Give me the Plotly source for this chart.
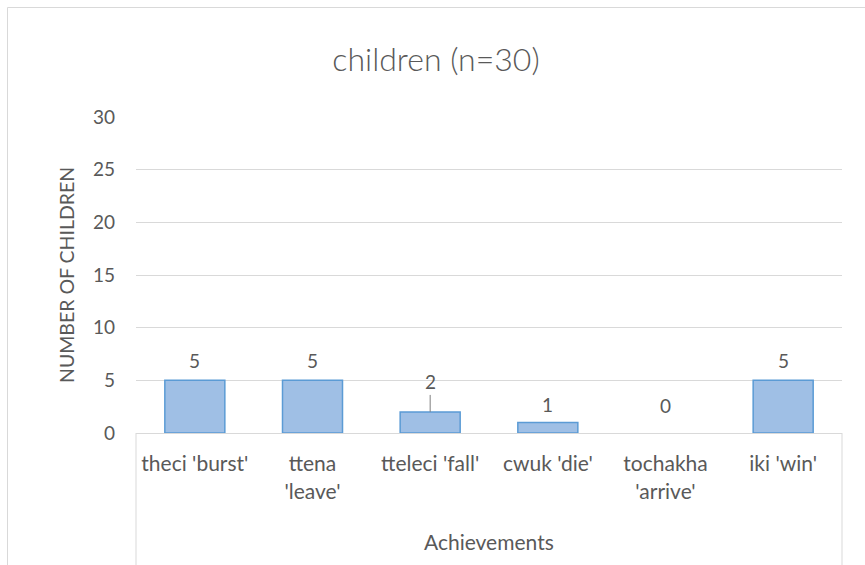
import plotly.graph_objects as go

# Achievement verbs and how many children produced each
categories = ["theci 'burst'", "ttena 'leave'", "tteleci 'fall'", "cwuk 'die'", "tochakha 'arrive'", "iki 'win'"]
tick_labels = ["theci 'burst'", "ttena<br>'leave'", "tteleci 'fall'", "cwuk 'die'", "tochakha<br>'arrive'", "iki 'win'"]
counts = [5, 5, 2, 1, 0, 5]

y_ticks = [0, 5, 10, 15, 20, 25, 30]

# Label placement (pixels above bar top); None = label pulled up with a leader line
label_lift = [20, 20, None, 18, 28, 20]

TEXT = "#595959"
GRID = "#d9d9d9"
FONT = "Lato, Carlito, Calibri, sans-serif"

W, H = 865, 565
ML, MR, MT, MB = 136, 23, 117, 132
PW, PH = W - ML - MR, H - MT - MB


def px_x(x):
    return (x - ML) / PW


def px_y(y):
    return (H - MB - y) / PH


fig = go.Figure()
fig.add_trace(go.Bar(
    x=categories,
    y=counts,
    width=0.51,
    marker=dict(color="#9fbfe5",
                line=dict(color="#5b9bd5", width=[1.5 if v > 0 else 0 for v in counts])),
    hoverinfo="skip",
))

annotations = []
for cat, val, lift in zip(categories, counts, label_lift):
    if lift is None:
        annotations.append(dict(
            x=cat, y=val, xref="x", yref="y", text=str(val),
            showarrow=True, arrowhead=0, arrowwidth=1, arrowcolor="#7f7f7f",
            ax=0, ay=-30, standoff=0,
            font=dict(family=FONT, size=19, color=TEXT),
        ))
    else:
        annotations.append(dict(
            x=cat, y=val, xref="x", yref="y", text=str(val),
            showarrow=False, yanchor="middle", yshift=lift,
            font=dict(family=FONT, size=19, color=TEXT),
        ))

annotations.append(dict(
    x=px_x(66), y=px_y(275), xref="paper", yref="paper",
    xanchor="center", yanchor="middle",
    text="NUMBER OF CHILDREN", textangle=-90, showarrow=False,
    font=dict(family=FONT, size=19.5, color=TEXT),
))
annotations.append(dict(
    x=0.5, y=px_y(541), xref="paper", yref="paper",
    xanchor="center", yanchor="middle",
    text="Achievements", showarrow=False,
    font=dict(family=FONT, size=21, color=TEXT),
))

shapes = [
    # chart frame
    dict(type="rect", xref="paper", yref="paper",
         x0=px_x(7.5), x1=px_x(870), y0=px_y(570), y1=px_y(7.5),
         line=dict(color=GRID, width=1), fillcolor="rgba(0,0,0,0)", layer="below"),
    # category-group separators under the axis
    dict(type="line", xref="paper", yref="paper", x0=0, x1=0, y0=0, y1=px_y(570),
         line=dict(color=GRID, width=1)),
    dict(type="line", xref="paper", yref="paper", x0=1, x1=1, y0=0, y1=px_y(570),
         line=dict(color=GRID, width=1)),
]

fig.update_layout(
    width=W, height=H,
    margin=dict(l=ML, r=MR, t=MT, b=MB, autoexpand=False),
    paper_bgcolor="white", plot_bgcolor="white",
    showlegend=False,
    title=dict(text="children (n=30)", x=436 / W, xref="container", xanchor="center",
               y=1 - 60 / H, yanchor="middle",
               font=dict(family=FONT, size=32, color=TEXT, weight=300)),
    xaxis=dict(
        type="category", tickvals=categories, ticktext=tick_labels,
        showline=True, linecolor=GRID, linewidth=1, showgrid=False,
        ticks="", ticklabelstandoff=12,
        tickfont=dict(family=FONT, size=21, color=TEXT),
    ),
    yaxis=dict(
        range=[0, 30], tickvals=y_ticks, showgrid=True, gridcolor=GRID, gridwidth=1,
        zeroline=False, showline=False, ticks="", ticklabelstandoff=20,
        tickfont=dict(family=FONT, size=19, color=TEXT),
    ),
    annotations=annotations,
    shapes=shapes,
)

fig.write_html("out.html")
